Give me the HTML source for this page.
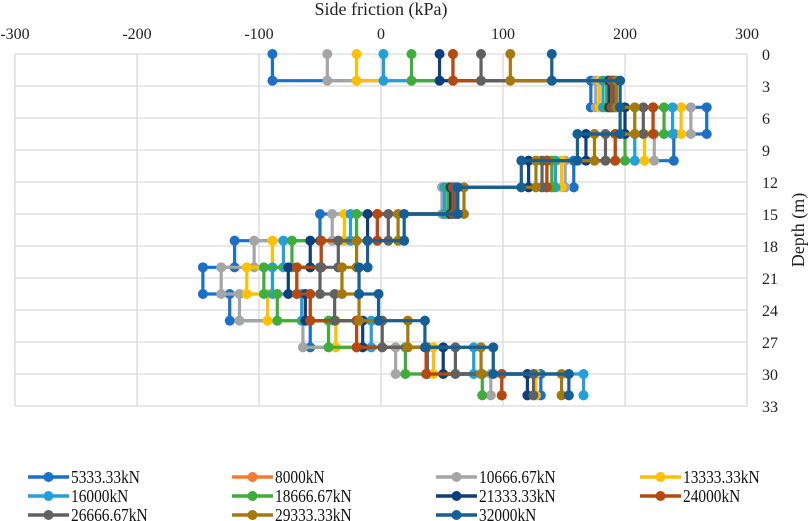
<!DOCTYPE html>
<html><head><meta charset="utf-8"><style>
body{margin:0;background:#fff;}
svg{display:block;font-family:"Liberation Serif",serif;}
</style></head><body>
<svg id="chart" width="809" height="521" viewBox="0 0 809 521">
<g id="grid"></g>
<g id="series"></g>
<g id="axes"></g>
<g id="legend"></g>
</svg>
<script>
const xTicks = [-300,-200,-100,0,100,200,300];
const yTicks = [0,3,6,9,12,15,18,21,24,27,30,33];
const layerTops = [0,2.5,5,7.5,10,12.5,15,17.5,20,22.5,25,27.5,30];
const layerBottoms = [2.5,5,7.5,10,12.5,15,17.5,20,22.5,25,27.5,30,32];
const seriesNames = ["5333.33kN","8000kN","10666.67kN","13333.33kN","16000kN","18666.67kN","21333.33kN","24000kN","26666.67kN","29333.33kN","32000kN"];
const seriesColors = ["#1b70c9","#f47b30","#a5a5a5","#ffc000","#22a0dc","#3fad3c","#0d3f7c","#b5490f","#616161","#a5790a","#135f96"];
const s5333 = [-89,172,267,240,158,51,-50,-120,-146,-124,-58,38,131];
const s8000 = [59,189,223,192,136,59,-3,-49,-69,-58,-20,37,99];
const s10666 = [-44,176,254,224,151,50,-40,-104,-131,-116,-64,12,90];
const s13333 = [-20,179,246,216,148,53,-30,-89,-110,-93,-37,43,127];
const s16000 = [2,182,239,208,143,52,-25,-80,-89,-65,-8,76,166];
const s18666 = [25,185,232,200,140,55,-20,-73,-96,-85,-43,20,83];
const s21333 = [48,187,200,168,121,57,-11,-58,-76,-62,-15,51,120];
const s24000 = [59,189,223,192,136,59,-3,-49,-69,-58,-20,37,99];
const s26666 = [82,191,215,184,132,61,6,-35,-50,-38,1,61,125];
const s29333 = [106,193,208,175,127,68,14,-20,-32,-18,22,82,148];
const s32000 = [140,196,196,161,115,63,19,-11,-18,-2,36,92,154];
const seriesValues = [s5333,s8000,s10666,s13333,s16000,s18666,s21333,s24000,s26666,s29333,s32000];

const NS="http://www.w3.org/2000/svg";
const X0=15, X1=747, Y0=54, Y1=406;
function xs(v){return X0+(v-(-300))/600*(X1-X0);}
function ys(d){return Y0+d/33*(Y1-Y0);}
function mk(tag,attrs,parent){const e=document.createElementNS(NS,tag);for(const k in attrs)e.setAttribute(k,attrs[k]);parent.appendChild(e);return e;}
const grid=document.getElementById('grid'), axes=document.getElementById('axes'), ser=document.getElementById('series'), leg=document.getElementById('legend');

xTicks.forEach(t=>{
  const l=mk('line',{x1:xs(t),x2:xs(t),y1:Y0,y2:Y1,stroke:'#d9d9d9','stroke-width':1.3},grid);
  
  
  const tx=mk('text',{x:xs(t),y:39,'text-anchor':'middle','font-size':16,fill:'#222'},axes);
  tx.textContent=t;
  
  
});
yTicks.forEach(t=>{
  const l=mk('line',{x1:X0,x2:X1,y1:ys(t),y2:ys(t),stroke:'#d9d9d9','stroke-width':1.3},grid);
  
  
  const tx=mk('text',{x:762,y:ys(t)+6,'text-anchor':'start','font-size':16,fill:'#222'},axes);
  tx.textContent=t;
  
  
});
const xt=mk('text',{x:381,y:15,'text-anchor':'middle','font-size':18,fill:'#222'},axes);
xt.textContent='Side friction (kPa)';


const yt=mk('text',{x:0,y:0,'text-anchor':'middle','font-size':18,fill:'#222',transform:'translate(804,230) rotate(-90)'},axes);
yt.textContent='Depth (m)';



seriesValues.forEach((vals,i)=>{
  const g=mk('g',{},ser);
  
  
  const pts=[];
  vals.forEach((v,j)=>{pts.push([xs(v),ys(layerTops[j])]);pts.push([xs(v),ys(layerBottoms[j])]);});
  const pl=mk('polyline',{points:pts.map(p=>p.join(',')).join(' '),fill:'none',stroke:seriesColors[i],'stroke-width':3.2,'stroke-linejoin':'round'},g);
  
  
  pts.forEach(p=>{
    const c=mk('circle',{cx:p[0],cy:p[1],r:5,fill:seriesColors[i]},g);
    
    
  });
});

seriesNames.forEach((n,i)=>{
  const col=i%4,row=Math.floor(i/4);
  const lx=28+col*204, ly=477+row*19;
  const g=mk('g',{},leg);
  
  
  mk('line',{x1:lx,x2:lx+41,y1:ly,y2:ly,stroke:seriesColors[i],'stroke-width':3.5},g);
  mk('circle',{cx:lx+20.5,cy:ly,r:5,fill:seriesColors[i]},g);
  const t=mk('text',{x:lx+43,y:ly+6,'font-size':17.5,fill:'#111'},g);
  t.textContent=n;
  const len=t.getComputedTextLength();
  t.setAttribute('textLength',(len*0.88).toFixed(1));
  t.setAttribute('lengthAdjust','spacingAndGlyphs');
});
</script>
</body></html>
